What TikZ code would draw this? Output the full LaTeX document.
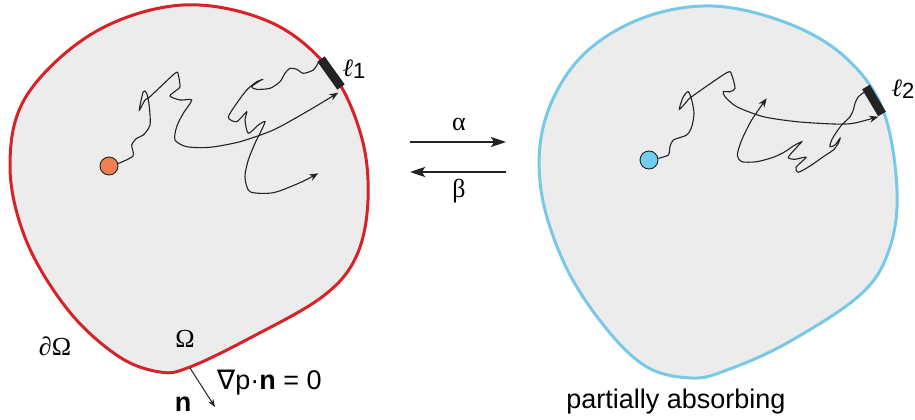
\documentclass[tikz,border=0pt]{standalone}
\usepackage{fontspec}
\setmainfont{Liberation Sans}
\newfontfamily\greekf{Liberation Serif}
\newfontfamily\dejavu{DejaVu Sans}
\usetikzlibrary{arrows.meta}
\definecolor{bred}{RGB}{214,35,40}
\definecolor{bblue}{RGB}{120,200,232}
\definecolor{bfill}{RGB}{236,236,236}
\definecolor{dotorange}{RGB}{240,128,80}
\definecolor{dotblue}{RGB}{112,206,236}
\definecolor{ink}{RGB}{35,35,35}
\tikzset{
  region/.style={fill=bfill, line width=3pt, line join=round},
  walker/.style={circle, draw=ink, line width=0.9pt, minimum size=18pt, inner sep=0pt},
  walk/.style={draw=ink, line width=1.1pt, -{Stealth[length=9pt,width=7pt]}},
  patch/.style={draw=ink, line width=9pt},
  rate/.style={draw=ink, line width=1.3pt, -{Stealth[length=15pt,width=10pt,inset=3pt]}},
  greek/.style={font=\greekf\fontsize{26}{30}\selectfont, inner sep=0pt},
  lab/.style={font=\fontsize{22}{26}\selectfont, inner sep=0pt},
  biglab/.style={font=\fontsize{27}{31}\selectfont, inner sep=0pt},
}
\newcommand{\ellsym}{\raisebox{2.5pt}{\greekf\itshape\fontsize{25}{28}\selectfont ℓ}}
\begin{document}
\begin{tikzpicture}[x=1pt,y=-1pt]
\useasboundingbox (0,0) rectangle (915,420);
% left domain
\draw[region, draw=bred] plot[smooth cycle, tension=0.6] coordinates {
 (183,5) (270,22) (330,70) (361,135) (368,200) (356,257) (322,297)
 (250,338) (190,367) (160,372) (118,356) (68,310) (26,240) (10,165)
 (27,95) (95,32)};
% right domain
\draw[region, draw=bblue] plot[smooth cycle, tension=0.6] coordinates {
 (712,6) (787,23) (845,57) (883,110) (897,190) (889,250) (860,295)
 (787,343) (727,370) (692,378) (647,367) (605,327) (565,265) (541,190)
 (545,120) (580,58) (640,19)};
% patches
\coordinate (pL1) at (321,59);
\coordinate (pL2) at (341,87);
\coordinate (pR1) at (866,87);
\coordinate (pR2) at (882,114);
\draw[patch] (pL1) -- (pL2);
\draw[patch] (pR1) -- (pR2);
% walkers
\node[walker, fill=dotorange] (dotL) at (109,166) {};
\node[walker, fill=dotblue] (dotR) at (649,160) {};
% left walks
\draw[walk] plot[smooth, tension=0.45] coordinates {
 (dotL.15) (133,156) (131.7,145) (136.7,138.3) (143.3,135) (150,125)
 (149.3,106.7) (146.7,93.3) (143.3,91.7) (139.3,110) (145,100) (150,96.7)
 (175,73.3) (178.3,75) (180,86.7) (176.7,90) (170,96) (180,100) (191.7,100)
 (183.3,113.3) (176.7,126.7) (175,140) (186.7,146.7) (210,147.3) (240,141.7)
 (273.3,130) (306.7,111.7) (338.3,92.7)};
\draw[walk] plot[smooth, tension=0.45] coordinates {
 (318.3,62.7) (313.3,70) (303.3,73.3) (296.7,69.3) (290,68.3) (285,73.3)
 (280,81.7) (270,88.3) (256.7,89.3) (251.7,86.7) (260,80.7) (263.3,79.3)
 (256.7,81.7) (246.7,90) (236.7,103.3) (228.3,117.3) (236.7,121.7)
 (246.7,111.7) (245,120) (248.3,133.3) (258.3,125) (265,121.7) (260,133.3)
 (255,143.3) (248.3,160) (245,176.7) (250,191.7) (273.3,192.7) (300,182.7)
 (318.3,173.3)};
% right walks
\draw[walk] plot[smooth, tension=0.45] coordinates {
 (dotR.10) (668.3,155) (670,146.7) (673.3,140) (686.7,135) (691.7,126.7)
 (694,113.3) (691.7,100) (688.3,91.7) (683.3,96.7) (679.3,109.3)
 (686.7,101.7) (691.7,96.7) (726.7,72.7) (731.7,75) (735,88.3) (730,91.7)
 (723.3,91.7) (725,96.7) (736.7,106.7) (763.3,116.7) (796.7,121.7)
 (833.3,124) (853.3,123.3) (878.3,116.7)};
\draw[walk] plot[smooth, tension=0.45] coordinates {
 (865,91.7) (858.3,96.7) (855,103.3) (853.3,110) (850,116.7) (841.7,125)
 (836.7,131.7) (831.7,140) (830,146.7) (835,145) (840,138.3) (838.3,143.3)
 (833.3,150) (823.3,156.7) (810,166) (798.3,172.3) (796,167.3) (806,157.3)
 (795,159.3) (788.3,157.3) (796.7,147.3) (801.7,141.7) (793.3,146)
 (785,151.7) (773.3,157.3) (756.7,161.7) (741.7,161.7) (737.3,155)
 (741.7,140) (751.7,120) (766.7,98.3)};
% rate arrows
\coordinate (aS) at (410,142);
\coordinate (aE) at (506,142);
\coordinate (bS) at (506,172);
\coordinate (bE) at (410,172);
\draw[rate] (aS) -- (aE);
\draw[rate] (bS) -- (bE);
\node[greek] (alpha) at (459,124) {α};
\node[greek] (beta) at (459,191) {β};
% labels
\node[lab] (l1) at (354,69) {\ellsym 1};
\node[lab] (l2) at (903,89) {\ellsym 2};
\node[greek] (dOm) at (55,346) {∂Ω};
\node[greek] (Om) at (185,339) {Ω};
% normal
\coordinate (nS) at (190,368);
\coordinate (nE) at (215,407);
\draw[ink, line width=1pt, -{Stealth[length=8pt,width=6pt]}] (nS) -- (nE);
\node[biglab, anchor=west] (bc) at (217,383) {{\dejavu ∇}p·\textbf{n} = 0};
\node[biglab] (nvec) at (183,404) {\textbf{n}};
\node[font=\fontsize{27}{31}\selectfont, inner sep=0pt] (pa) at (676,402) {partially absorbing};
\end{tikzpicture}
\end{document}
